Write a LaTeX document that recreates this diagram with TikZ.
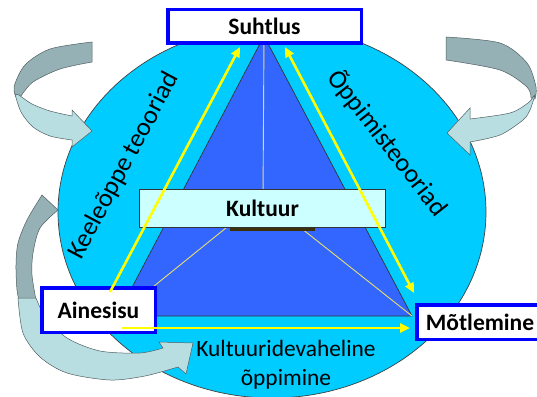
\documentclass[tikz,border=0pt]{standalone}
\usepackage{fontspec}
\setmainfont{Carlito}
\usetikzlibrary{arrows.meta}
\definecolor{cyanfill}{RGB}{0,204,255}
\definecolor{triblue}{RGB}{51,102,255}
\definecolor{boxblue}{RGB}{0,0,255}
\definecolor{kultfill}{RGB}{204,255,255}
\definecolor{arrdark}{RGB}{149,177,181}
\definecolor{arrlight}{RGB}{185,222,226}
\definecolor{arredge}{RGB}{80,95,98}
\definecolor{shadowbar}{RGB}{60,50,10}
\definecolor{yel}{RGB}{255,255,0}
\definecolor{thinline}{RGB}{232,222,110}
\tikzset{
  conceptbox/.style={draw=boxblue, line width=3.5pt, fill=white, inner sep=0pt,
    font=\fontsize{23.5}{28}\selectfont\bfseries},
  yarrow/.style={draw=yel, line width=2.6pt, -{Triangle[length=10pt,width=9pt]}},
  yarrowboth/.style={draw=yel, line width=2.6pt, {Triangle[length=10pt,width=9pt]}-{Triangle[length=10pt,width=9pt]}},
  thinyel/.style={draw=thinline, line width=0.9pt},
  curvedark/.style={fill=arrdark, draw=arredge, line width=0.5pt},
  curvelight/.style={fill=arrlight, draw=arredge, line width=0.5pt},
  sidelabel/.style={font=\fontsize{26}{30}\selectfont, inner sep=0pt},
}
\begin{document}
\begin{tikzpicture}[x=1pt,y=-1pt]
\useasboundingbox (0,0) rectangle (537,396);
% big ellipse
\draw[fill=cyanfill, draw=black!75, line width=0.7pt] (272,212) ellipse [x radius=214pt, y radius=186pt];
% triangle
\coordinate (apex) at (264,36);
\coordinate (bl) at (117,316);
\coordinate (br) at (412,316);
\draw[fill=triblue, draw=black!80, line width=0.7pt] (apex) -- (bl) -- (br) -- cycle;
% thin lines from the centre
\coordinate (ctr) at (263,198);
\draw[thinyel] (ctr) -- (apex);
\draw[thinyel] (ctr) -- (bl);
\draw[thinyel] (ctr) -- (br);
% Kultuur
\fill[shadowbar] (230,225) rectangle (315,231);
\node[draw=black!80, line width=0.8pt, fill=kultfill, minimum width=246pt, minimum height=38pt,
  inner sep=0pt, font=\fontsize{23.5}{28}\selectfont\bfseries] (kultuur) at (262.5,208.5) {Kultuur};
% curved arrow top left
\path[curvedark] plot[smooth] coordinates {(92,42) (50,49) (25,65) (14,87) (17,99)}
  -- plot[smooth] coordinates {(21,96) (33,82) (60,69) (92,62)} -- cycle;
\path[curvelight] plot[smooth] coordinates {(15,94) (21,112) (33,127) (50,136) (72,140)}
  -- (72,147) -- (92,131) -- (72,110) -- (72,116)
  -- plot[smooth] coordinates {(72,116) (50,111) (32,104) (19,95)} -- cycle;
% curved arrow top right
\path[curvedark] plot[smooth] coordinates {(446,37) (500,43) (527,63) (536,87) (535,99)}
  -- plot[smooth] coordinates {(531,98) (527,87) (500,70) (446,60)} -- cycle;
\path[curvelight] plot[smooth] coordinates {(535,95) (530,110) (523,120) (500,135) (470,142)}
  -- (470,155) -- (447,133) -- (470,108) -- (470,119)
  -- plot[smooth] coordinates {(470,119) (510,113) (528,103) (533,97)} -- cycle;
% curved arrow bottom left
\path[curvedark] plot[smooth] coordinates {(42,195) (27,220) (18,243) (16,265) (17,290) (20,305)}
  -- plot[smooth] coordinates {(36,300) (32,275) (33,253) (40,228) (58,210)} -- cycle;
\path[curvelight] plot[smooth] coordinates {(18,298) (23,333) (40,357) (67,373) (110,380) (145,376) (178,367)}
  -- (186,374) -- (193,343) -- (159,342) -- (163,348)
  -- plot[smooth] coordinates {(163,348) (140,353) (100,351) (67,338) (45,316) (36,298)} -- cycle;
% concept boxes
\node[conceptbox, minimum width=193.5pt, minimum height=33.5pt] (suhtlus) at (264.5,26.5) {Suhtlus};
\node[conceptbox, minimum width=113.5pt, minimum height=44.5pt] (ainesisu) at (98.5,310) {Ainesisu};
\node[conceptbox, minimum width=126.5pt, minimum height=34.5pt] (motlemine) at (480,322) {Mõtlemine};
% yellow arrows
\draw[yarrow] ([xshift=11.5pt,yshift=-6pt]ainesisu.north) -- ([xshift=-24.5pt,yshift=-2pt]suhtlus.south);
\draw[yarrowboth] ([xshift=20.5pt,yshift=-2pt]suhtlus.south) -- ([xshift=-1pt,yshift=10pt]motlemine.north west);
\draw[yarrow] ([xshift=-35pt,yshift=6pt]ainesisu.south east) -- ([xshift=-5pt,yshift=-6pt]motlemine.west);
% labels
\node[sidelabel, rotate=62] (keel) at (124,166) {Keeleõppe teooriad};
\node[sidelabel, rotate=-52] (oppi) at (388,143) {Õppimisteooriad};
\node[font=\fontsize{23.4}{29}\selectfont, align=center, anchor=base, inner sep=0pt] (kv) at (286,385) {Kultuuridevaheline\\õppimine};
\end{tikzpicture}
\end{document}
